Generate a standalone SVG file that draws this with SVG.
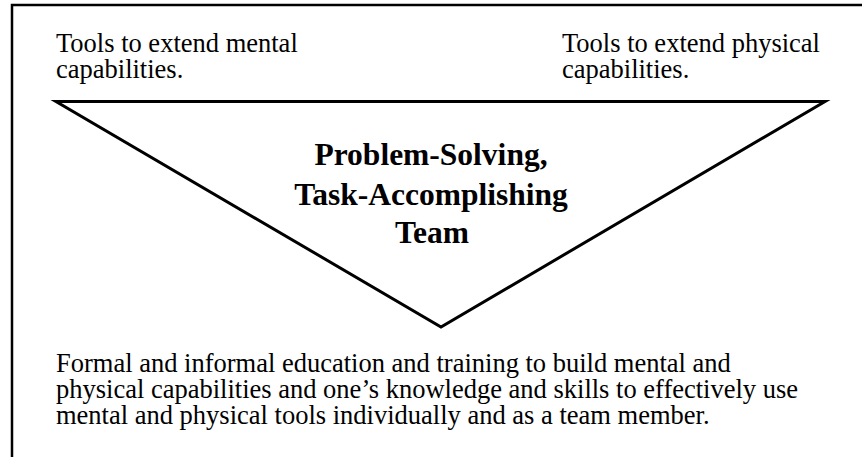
<svg xmlns="http://www.w3.org/2000/svg" width="862" height="457" viewBox="0 0 862 457">
<style>
.t{font-family:"Liberation Serif","Times New Roman",serif;font-size:26.5px;fill:#000}
.b{font-family:"Liberation Serif","Times New Roman",serif;font-size:31.5px;font-weight:bold;fill:#000;text-anchor:middle}
.frame{fill:none;stroke:#000;stroke-width:2.5}
.tri{fill:none;stroke:#000;stroke-width:3;stroke-linejoin:miter}
</style>
<rect width="862" height="457" fill="#fff"/>
<g id="frame">
<polyline class="frame" points="12,457 12,5 862,5"/>
</g>
<g id="mental-tools">
<text class="t" x="56" y="52">Tools to extend mental</text>
<text class="t" x="56" y="77.5">capabilities.</text>
</g>
<g id="physical-tools">
<text class="t" x="562" y="52">Tools to extend physical</text>
<text class="t" x="562" y="77.5">capabilities.</text>
</g>
<g id="team">
<polygon class="tri" points="56,101.5 825,101.5 441,327"/>
<text class="b" x="431" y="165">Problem-Solving,</text>
<text class="b" x="431" y="205">Task-Accomplishing</text>
<text class="b" x="432" y="243">Team</text>
</g>
<g id="education">
<text class="t" x="56" y="372">Formal and informal education and training to build mental and</text>
<text class="t" x="56" y="398">physical capabilities and one’s knowledge and skills to effectively use</text>
<text class="t" x="56" y="424">mental and physical tools individually and as a team member.</text>
</g>
<g id="connectors"></g>
</svg>
